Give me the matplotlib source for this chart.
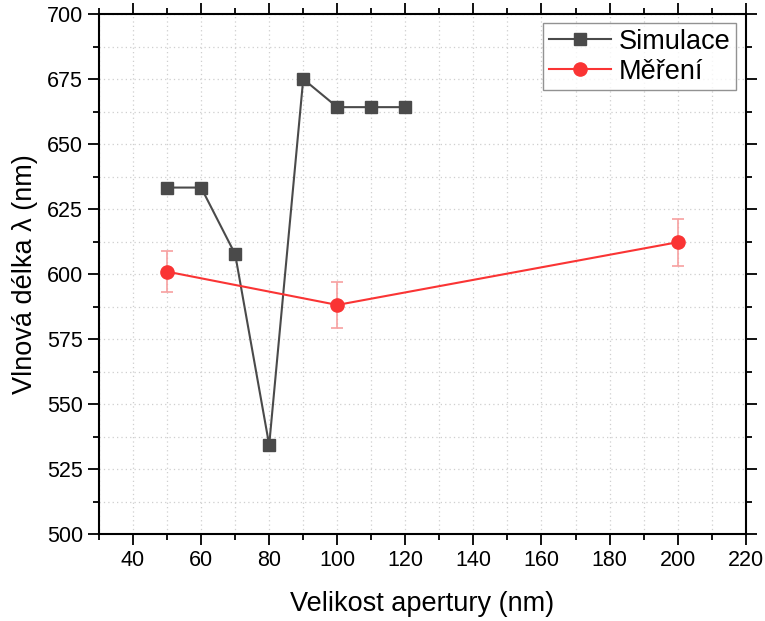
import matplotlib
matplotlib.use("Agg")
import matplotlib.pyplot as plt
from matplotlib.ticker import MultipleLocator

plt.rcParams['font.family'] = ['Liberation Sans', 'DejaVu Sans']

# Simulated peak wavelength vs aperture size
sim_x = [50, 60, 70, 80, 90, 100, 110, 120]
sim_y = [633.3, 633.3, 607.7, 534.4, 675.0, 664.2, 664.2, 664.2]

# Measured peak wavelength with uncertainty
meas_x = [50, 100, 200]
meas_y = [601.0, 588.2, 612.3]
meas_err = [8.0, 9.0, 9.0]

fig = plt.figure(figsize=(7.65, 6.21), dpi=100)
ax = fig.add_axes([0.1294, 0.1393, 0.8454, 0.8382])

ax.plot(sim_x, sim_y, color='#4a4a4a', lw=1.5, marker='s', ms=8.5,
        label='Simulace', zorder=3)
ax.errorbar(meas_x, meas_y, yerr=meas_err, fmt='none', ecolor='#f7a0a0',
            elinewidth=1.2, capsize=4, capthick=1.2, zorder=2)
ax.plot(meas_x, meas_y, color='#fa3434', lw=1.5, marker='o', ms=9.5,
        label='Měření', zorder=3)

ax.set_xlim(30, 220)
ax.set_ylim(500, 700)
ax.xaxis.set_minor_locator(MultipleLocator(10))
ax.yaxis.set_major_locator(MultipleLocator(25))
ax.yaxis.set_minor_locator(MultipleLocator(12.5))
ax.set_xticks(range(40, 221, 20))

ax.grid(which='both', color='#cfcfcf', ls=(0, (1, 2.5)), lw=0.9)
ax.set_axisbelow(True)

for s in ax.spines.values():
    s.set_linewidth(1.5)
ax.tick_params(which='both', direction='out', top=True, right=True,
               width=1.3, labelsize=15.5)
ax.tick_params(which='major', length=8)
ax.tick_params(which='minor', length=4)

ax.set_xlabel('Velikost apertury (nm)', fontsize=19.5, labelpad=14)
ax.set_ylabel('Vlnová délka λ (nm)', fontsize=19.5, labelpad=6)

leg = ax.legend(loc='upper right', fontsize=19.5, frameon=True, fancybox=False,
                edgecolor='#777777', handlelength=2.3, borderaxespad=0.35,
                labelspacing=0.15, handletextpad=0.3, borderpad=0.2)
leg.get_frame().set_linewidth(1.0)

fig.savefig('out.png', dpi=100)
